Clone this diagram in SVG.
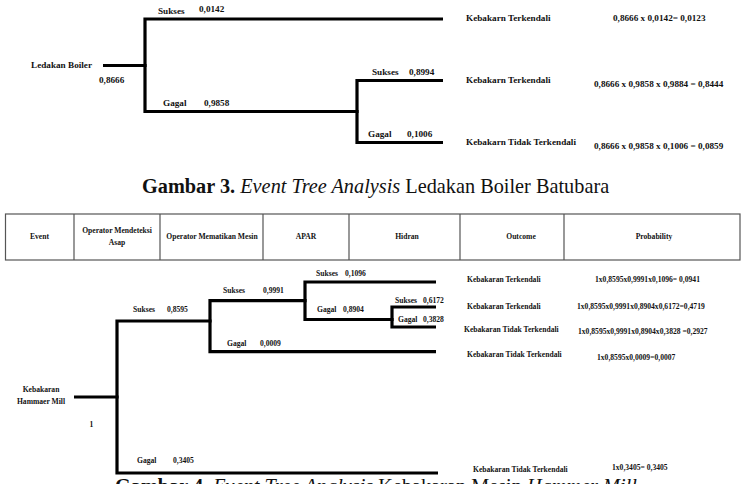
<svg xmlns="http://www.w3.org/2000/svg" width="745" height="484" viewBox="0 0 745 484">
<style>
text{font-family:"Liberation Serif","Times New Roman",serif;fill:#111}
.t{font-size:9.2px;font-weight:bold}
.b{font-size:7.6px;font-weight:bold}
.h{font-size:7.6px;font-weight:bold;text-anchor:middle}
.cap{font-size:20.3px}
.ln{fill:none;stroke:#000;stroke-width:3.2;stroke-linejoin:miter;stroke-linecap:butt}
.tb{fill:none;stroke:#555;stroke-width:1.2}
</style>
<rect width="745" height="484" fill="#fff"/>

<!-- Figure 3 -->
<g id="connectors-top">
<path class="ln" d="M103,65.5 H146.6"/>
<path class="ln" d="M443,19 H145 V111.5 H358.6"/>
<path class="ln" d="M443,80.5 H357 V142.5 H443"/>
</g>
<g id="ledakan-boiler"><text class="t" x="31" y="68">Ledakan Boiler</text><text class="t" x="99" y="83">0,8666</text></g>
<g id="sukses-0142"><text class="t" x="158" y="13.5">Sukses</text><text class="t" x="199" y="11.5">0,0142</text></g>
<g id="gagal-9858"><text class="t" x="163" y="106">Gagal</text><text class="t" x="204" y="106">0,9858</text></g>
<g id="sukses-8994"><text class="t" x="372" y="75">Sukses</text><text class="t" x="409" y="75">0,8994</text></g>
<g id="gagal-1006"><text class="t" x="368" y="137">Gagal</text><text class="t" x="407" y="137">0,1006</text></g>
<g id="outcome-1"><text class="t" x="466" y="21">Kebakarn Terkendali</text><text class="t" x="613" y="21">0,8666 x 0,0142= 0,0123</text></g>
<g id="outcome-2"><text class="t" x="466" y="83">Kebakarn Terkendali</text><text class="t" x="594" y="87">0,8666 x 0,9858 x 0,9884 = 0,8444</text></g>
<g id="outcome-3"><text class="t" x="466" y="145">Kebakarn Tidak Terkendali</text><text class="t" x="594" y="149">0,8666 x 0,9858 x 0,1006 = 0,0859</text></g>

<g id="caption-3"><text class="cap" x="142" y="192.5"><tspan font-weight="bold">Gambar 3.</tspan>  <tspan font-style="italic">Event Tree Analysis</tspan> Ledakan Boiler Batubara</text></g>

<!-- Figure 4 table -->
<g id="table-header">
<rect class="tb" x="5.5" y="214" width="734.5" height="46"/>
<path class="tb" d="M74,214 V260 M160,214 V260 M263,214 V260 M349,214 V260 M460,214 V260 M564,214 V260"/>
<text class="h" x="39.5" y="239">Event</text>
<text class="h" x="117" y="233">Operator Mendeteksi</text>
<text class="h" x="117" y="245">Asap</text>
<text class="h" x="212" y="239">Operator Mematikan Mesin</text>
<text class="h" x="306" y="239">APAR</text>
<text class="h" x="407" y="239">Hidran</text>
<text class="h" x="521" y="239">Outcome</text>
<text class="h" x="654" y="239">Probability</text>
</g>

<g id="connectors-bottom">
<path class="ln" d="M74,397 H118.6"/>
<path class="ln" d="M211.6,321 H117 V473 H438"/>
<path class="ln" d="M306.6,300.7 H210 V351.7 H436"/>
<path class="ln" d="M436,282 H305 V319.5 H393.6"/>
<path class="ln" d="M436,307 H392 V327 H436"/>
</g>
<g id="kebakaran-hammaer-mill">
<text class="b" x="41" y="391.5" text-anchor="middle">Kebakaran</text>
<text class="b" x="41" y="403.5" text-anchor="middle">Hammaer Mill</text>
<text class="b" x="89.5" y="426.5">1</text>
</g>
<g id="sukses-8595"><text class="b" x="133" y="311.5">Sukses</text><text class="b" x="167" y="311.5">0,8595</text></g>
<g id="gagal-3405"><text class="b" x="137" y="462.5">Gagal</text><text class="b" x="173" y="462.5">0,3405</text></g>
<g id="sukses-9991"><text class="b" x="223" y="292.5">Sukses</text><text class="b" x="263" y="292.5">0,9991</text></g>
<g id="gagal-0009"><text class="b" x="227" y="345.5">Gagal</text><text class="b" x="260" y="345.5">0,0009</text></g>
<g id="sukses-1096"><text class="b" x="316" y="276">Sukses</text><text class="b" x="345" y="276">0,1096</text></g>
<g id="gagal-8904"><text class="b" x="317" y="312">Gagal</text><text class="b" x="343" y="312">0,8904</text></g>
<g id="sukses-6172"><text class="b" x="395" y="302.5">Sukses</text><text class="b" x="423" y="302.5">0,6172</text></g>
<g id="gagal-3828"><text class="b" x="398" y="321.5">Gagal</text><text class="b" x="423" y="321.5">0,3828</text></g>

<g id="outcome-b1"><text class="b" x="467" y="281.5">Kebakaran Terkendali</text><text class="b" x="595" y="281.5">1x0,8595x0,9991x0,1096= 0,0941</text></g>
<g id="outcome-b2"><text class="b" x="467" y="308.5">Kebakaran Terkendali</text><text class="b" x="577" y="308.5">1x0,8595x0,9991x0,8904x0,6172=0,4719</text></g>
<g id="outcome-b3"><text class="b" x="464" y="331.5">Kebakaran Tidak Terkendali</text><text class="b" x="578" y="333.5">1x0,8595x0,9991x0,8904x0,3828 =0,2927</text></g>
<g id="outcome-b4"><text class="b" x="467" y="356.5">Kebakaran Tidak Terkendali</text><text class="b" x="597" y="359.5">1x0,8595x0,0009=0,0007</text></g>
<g id="outcome-b5"><text class="b" x="473" y="471.5">Kebakaran Tidak Terkendali</text><text class="b" x="612" y="469.5">1x0,3405= 0,3405</text></g>

<g id="caption-4"><text class="cap" x="115" y="492.5"><tspan font-weight="bold">Gambar 4.</tspan>  <tspan font-style="italic">Event Tree Analysis</tspan> Kebakaran Mesin <tspan font-style="italic">Hammer Mill</tspan></text></g>
</svg>
